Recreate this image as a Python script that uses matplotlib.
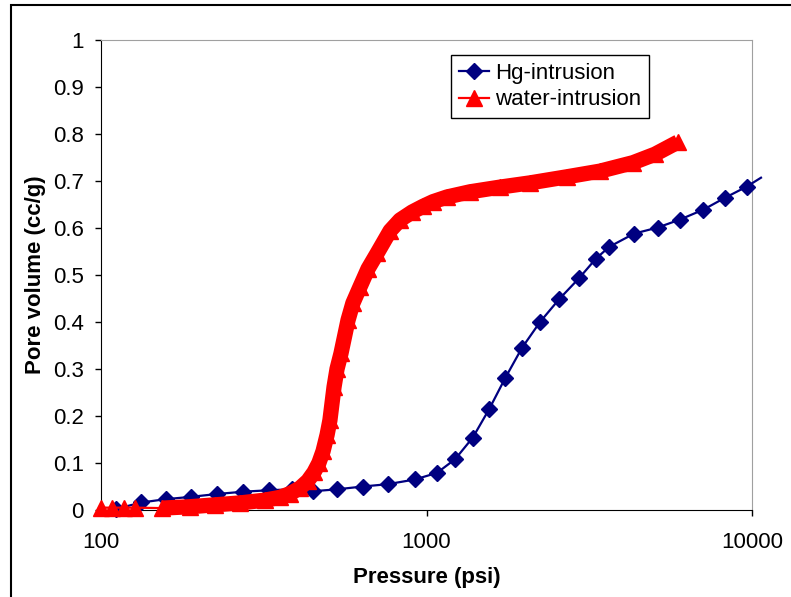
import matplotlib
matplotlib.use("Agg")
import matplotlib.pyplot as plt
from matplotlib.patches import Rectangle
from matplotlib.ticker import NullLocator

plt.rcParams['font.family'] = ['Liberation Sans', 'DejaVu Sans']

# Hg-intrusion (psi, cc/g) - last point is where the line runs past the axis edge
hg_pressure = [111, 133, 158, 189, 227, 274, 328, 385, 449, 531, 638, 762, 922,
               1077, 1224, 1387, 1559, 1746, 1965, 2232, 2559, 2941, 3317, 3644,
               4340, 5132, 6009, 7087, 8245, 9632, 10656]
hg_volume = [0.002, 0.016, 0.023, 0.028, 0.034, 0.039, 0.042, 0.044, 0.040, 0.044,
             0.050, 0.055, 0.065, 0.079, 0.108, 0.154, 0.215, 0.281, 0.345, 0.400,
             0.449, 0.493, 0.535, 0.560, 0.588, 0.601, 0.618, 0.639, 0.664, 0.688,
             0.707]

# water-intrusion (psi, cc/g)
water_pressure = [100, 108, 118, 127, 154, 188, 224, 267, 319, 355, 381, 409, 432,
                  451, 467, 481, 495, 505, 520, 531, 546, 574, 594, 625, 661, 705,
                  773, 829, 903, 975, 1047, 1156, 1360, 1682, 2080, 2702, 3412,
                  4310, 5035, 5926]
water_volume = [0.005, 0.005, 0.005, 0.005, 0.004, 0.007, 0.011, 0.015, 0.021,
                0.027, 0.035, 0.047, 0.062, 0.080, 0.100, 0.125, 0.160, 0.191,
                0.262, 0.300, 0.333, 0.404, 0.440, 0.475, 0.513, 0.546, 0.594,
                0.617, 0.634, 0.646, 0.656, 0.666, 0.677, 0.687, 0.696, 0.709,
                0.721, 0.739, 0.757, 0.783]

x_ticks = [100, 1000, 10000]
x_labels = ['100', '1000', '10000']
y_ticks = [0, 0.1, 0.2, 0.3, 0.4, 0.5, 0.6, 0.7, 0.8, 0.9, 1]
y_labels = ['0', '0.1', '0.2', '0.3', '0.4', '0.5', '0.6', '0.7', '0.8', '0.9', '1']

fig = plt.figure(figsize=(7.91, 5.97), dpi=100)
ax = fig.add_axes([101 / 791, 87 / 597, 651 / 791, 470 / 597])

# Hg series: line runs a bit past the right edge, no marker there
ax.plot(hg_pressure, hg_volume, color='#000080', lw=1.6, marker='D', ms=8,
        markevery=list(range(len(hg_pressure) - 1)), clip_on=False,
        label='Hg-intrusion', zorder=3)

# water series: dense markers in the original -> thick band under the markers
ax.plot(water_pressure[4:], water_volume[4:], color='red', lw=11,
        solid_capstyle='butt', zorder=4, clip_on=False)
ax.plot(water_pressure, water_volume, color='red', lw=1.6, marker='^', ms=11,
        label='water-intrusion', zorder=5, clip_on=False)

ax.set_xscale('log')
ax.set_xlim(100, 10000)
ax.set_ylim(0, 1)
ax.set_xticks(x_ticks)
ax.set_xticklabels(x_labels)
ax.xaxis.set_minor_locator(NullLocator())
ax.set_yticks(y_ticks)
ax.set_yticklabels(y_labels)
ax.tick_params(axis='both', direction='out', length=4.5, width=1, labelsize=16,
               colors='black')
ax.tick_params(axis='x', pad=11)
ax.tick_params(axis='y', pad=8)

for s in ['top', 'right']:
    ax.spines[s].set_color('#a0a0a0')
for s in ['left', 'bottom']:
    ax.spines[s].set_color('black')

ax.set_xlabel('Pressure (psi)', fontsize=16, fontweight='bold', va='center')
ax.xaxis.set_label_coords(0.5, (510 - 577) / 470)
ax.set_ylabel('Pore volume (cc/g)', fontsize=16, fontweight='bold', va='center')
ax.yaxis.set_label_coords((36 - 101) / 651, 0.5)

leg = ax.legend(loc='upper left', bbox_to_anchor=(451 / 791, 1 - 55 / 597),
                bbox_transform=fig.transFigure, fancybox=False, edgecolor='black',
                fontsize=16, handlelength=1.35, handletextpad=0.3, borderpad=0.35,
                labelspacing=0.25, borderaxespad=0, framealpha=1)
leg.get_frame().set_linewidth(1)

# chart area border
fig.patches.append(Rectangle((10.5 / 791, -0.1), 2, 1.1 - 4.5 / 597,
                             transform=fig.transFigure, fill=False,
                             edgecolor='black', lw=1.5))

fig.savefig('out.png', dpi=100)
